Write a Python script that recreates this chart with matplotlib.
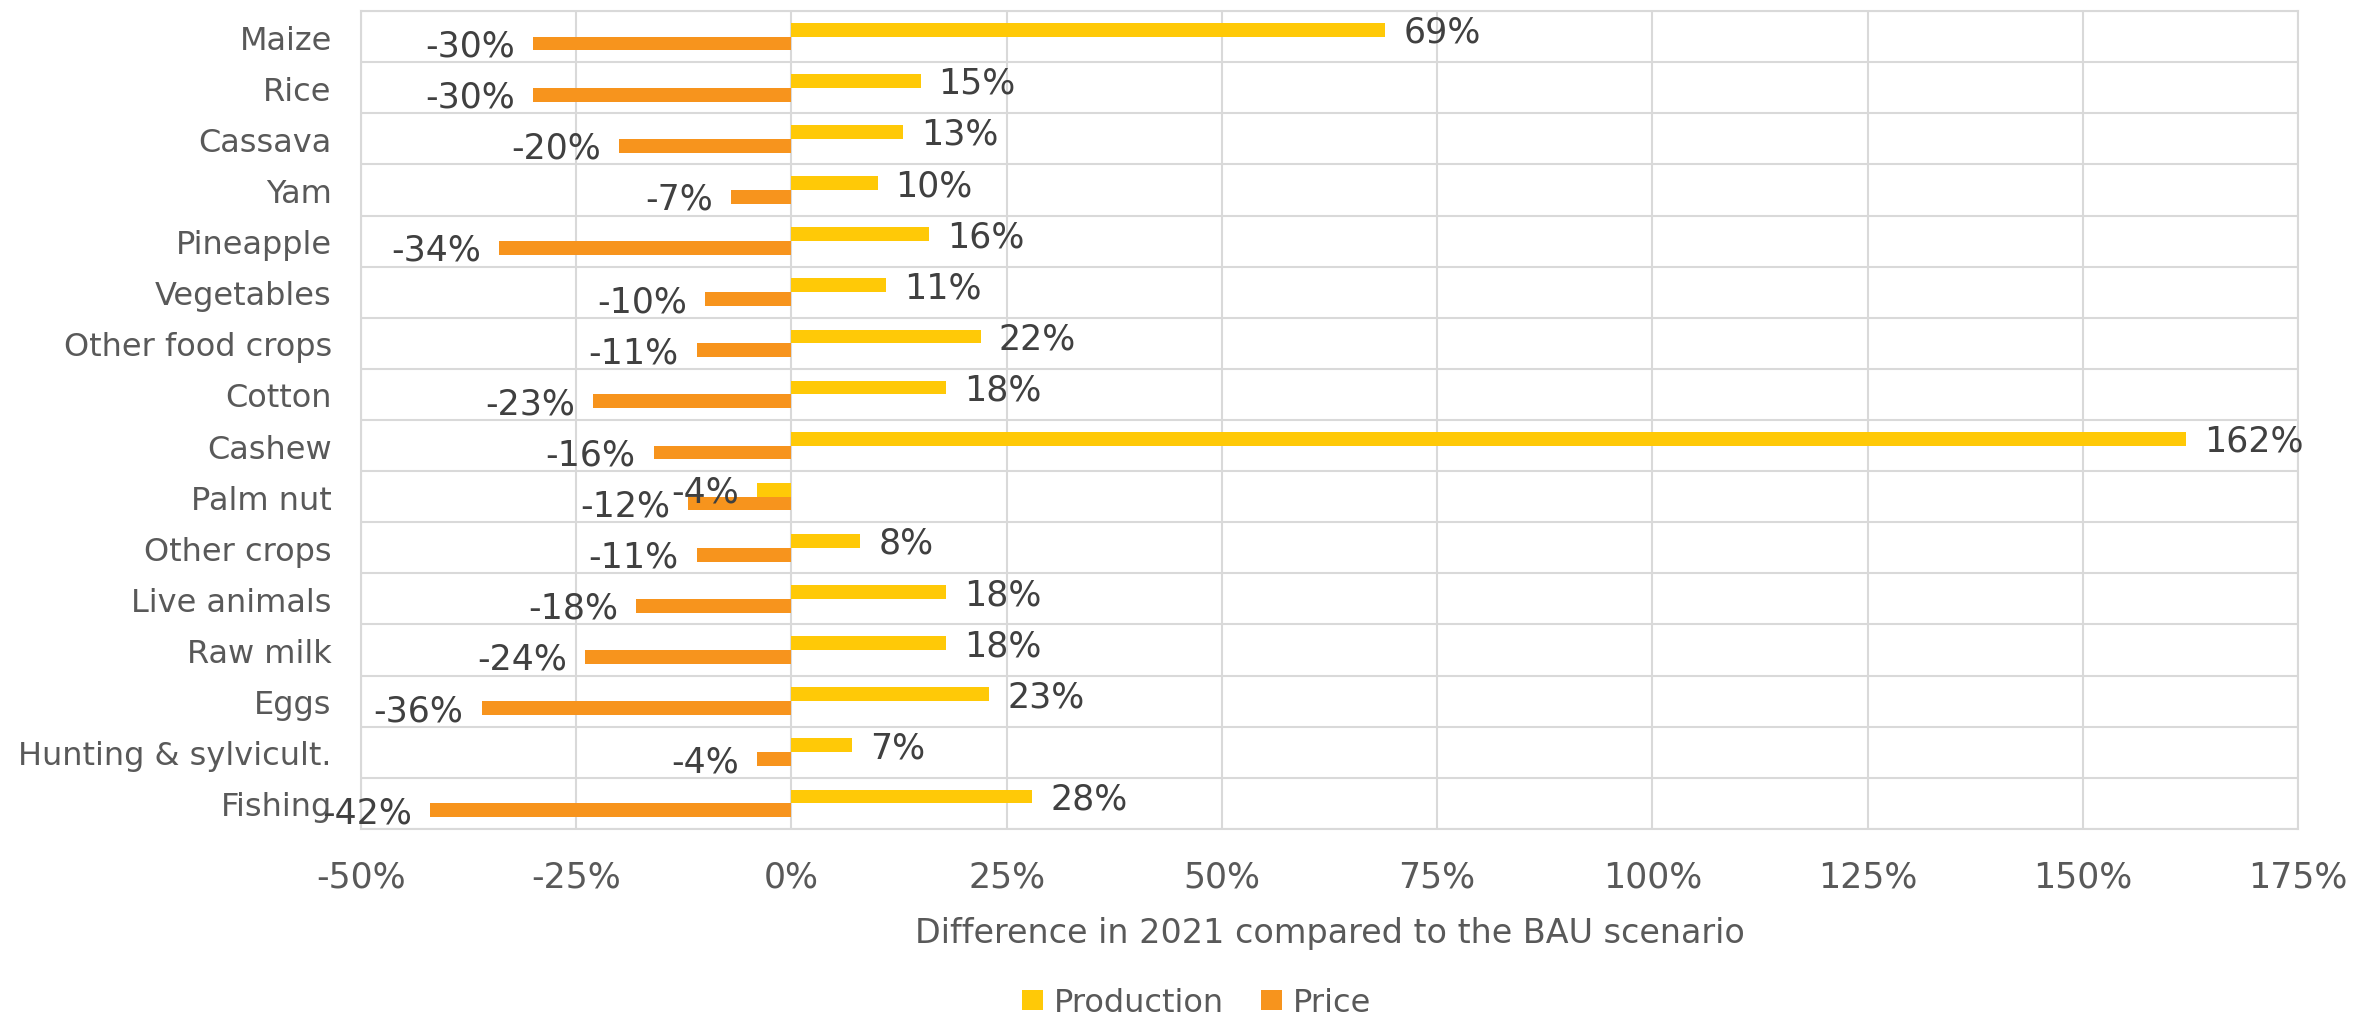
import numpy as np
import matplotlib
matplotlib.use("Agg")
import matplotlib.pyplot as plt
from matplotlib.ticker import FixedLocator, FuncFormatter

plt.rcParams['font.family'] = ['DejaVu Sans']

products = ["Maize", "Rice", "Cassava", "Yam", "Pineapple", "Vegetables",
            "Other food crops", "Cotton", "Cashew", "Palm nut", "Other crops",
            "Live animals", "Raw milk", "Eggs", "Hunting & sylvicult.", "Fishing"]
production = [69, 15, 13, 10, 16, 11, 22, 18, 162, -4, 8, 18, 18, 23, 7, 28]
price = [-30, -30, -20, -7, -34, -10, -11, -23, -16, -12, -11, -18, -24, -36, -4, -42]
xticks = [-50, -25, 0, 25, 50, 75, 100, 125, 150, 175]

PROD_COLOR = "#FFC907"
PRICE_COLOR = "#F7941D"
GRID = "#D9D9D9"
AXIS_TEXT = "#595959"
LABEL_TEXT = "#404040"

fig = plt.figure(figsize=(23.61, 10.20), dpi=100)
ax = fig.add_axes([0.1529, 0.1863, 0.8204, 0.8019])

y = np.arange(len(products))
h = 0.27
b1 = ax.barh(y - h / 2, production, height=h, color=PROD_COLOR, label="Production", zorder=3)
b2 = ax.barh(y + h / 2, price, height=h, color=PRICE_COLOR, label="Price", zorder=3)

# value labels just past the end of each bar (left side for negatives)
for bars, vals in ((b1, production), (b2, price)):
    for rect, v in zip(bars, vals):
        yc = rect.get_y() + rect.get_height() / 2
        off = 18 if v >= 0 else -18
        ax.annotate(f"{v:.0f}%", (v, yc), xytext=(off, -2), textcoords="offset pixels",
                    ha="left" if v >= 0 else "right", va="center",
                    fontsize=25, color=LABEL_TEXT, zorder=4)

ax.set_xlim(-50, 175)
ax.set_ylim(len(products) - 0.5, -0.5)
ax.set_xticks(xticks)
ax.xaxis.set_major_formatter(FuncFormatter(lambda v, pos: f"{v:.0f}%"))
ax.set_yticks(y)
ax.set_yticklabels(products)
ax.yaxis.set_minor_locator(FixedLocator(np.arange(-0.5, len(products), 1.0)))

ax.tick_params(axis="both", which="both", length=0)
ax.tick_params(axis="x", labelsize=25, labelcolor=AXIS_TEXT, pad=22)
ax.tick_params(axis="y", labelsize=23, labelcolor=AXIS_TEXT, pad=21)

ax.grid(axis="x", which="major", color=GRID, linewidth=1.5, zorder=0)
ax.grid(axis="y", which="minor", color=GRID, linewidth=1.5, zorder=0)
for s in ax.spines.values():
    s.set_color(GRID)
    s.set_linewidth(1.5)

ax.set_xlabel("Difference in 2021 compared to the BAU scenario",
              fontsize=24, color=AXIS_TEXT, labelpad=16)

fig.legend(handles=[b1, b2], loc="center", bbox_to_anchor=(0.5068, 0.016),
           ncol=2, frameon=False, fontsize=23, labelcolor=AXIS_TEXT,
           handlelength=0.66, handleheight=0.62, handletextpad=0.35, columnspacing=1.15,
           borderpad=0)

fig.savefig("out.png", dpi=100)
